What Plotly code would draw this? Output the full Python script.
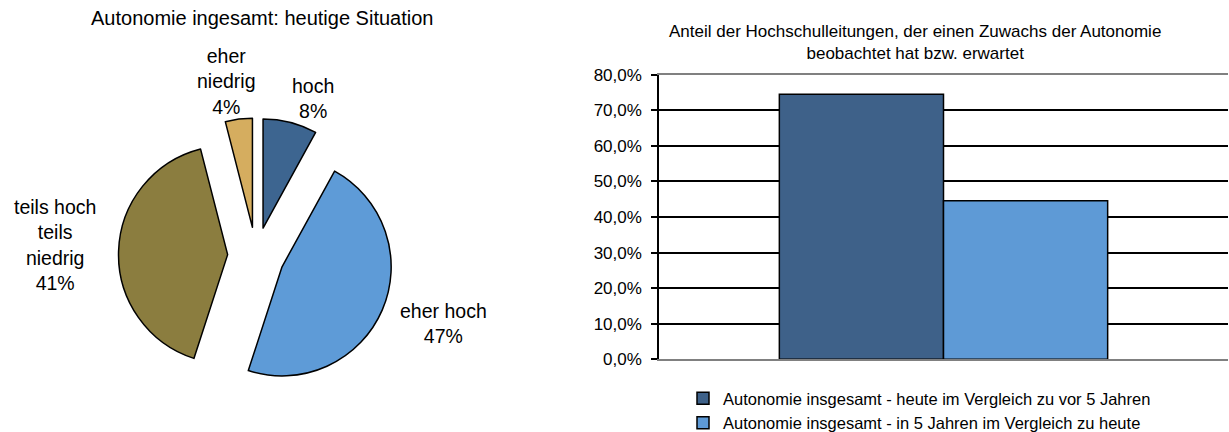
import plotly.graph_objects as go

# Pie: overall autonomy today
pie_labels = ["hoch", "eher hoch", "teils hoch teils niedrig", "eher niedrig"]
pie_label_lines = ["hoch", "eher hoch", "teils hoch<br>teils<br>niedrig", "eher<br>niedrig"]
pie_values = [8, 47, 41, 4]
pie_colors = ["#3D6590", "#5E9BD7", "#8B7D3F", "#D5AD5F"]

# Bars: share of university leaderships observing / expecting more autonomy
bar_series = [
    "Autonomie insgesamt - heute im Vergleich zu vor 5 Jahren",
    "Autonomie insgesamt - in 5 Jahren im Vergleich zu heute",
]
bar_values = [0.745, 0.446]
bar_colors = ["#3E6189", "#5E9AD6"]
y_ticks = [0, 0.1, 0.2, 0.3, 0.4, 0.5, 0.6, 0.7, 0.8]

W, H = 1229, 432
FONT = "Liberation Sans, Arial, sans-serif"


def px_x(v):
    return v / W


def px_y(v):
    return 1 - v / H


fig = go.Figure()

fig.add_trace(go.Pie(
    labels=pie_labels,
    values=pie_values,
    sort=False,
    direction="clockwise",
    rotation=0,
    pull=[0.26] * len(pie_values),
    marker=dict(colors=pie_colors, line=dict(color="#000000", width=1.5)),
    textinfo="none",
    hoverinfo="label+percent",
    showlegend=False,
    domain=dict(x=[px_x(117), px_x(395)], y=[px_y(393), px_y(118)]),
))

for name, val, col in zip(bar_series, bar_values, bar_colors):
    fig.add_trace(go.Bar(
        x=[""],
        y=[val],
        name=name,
        marker=dict(color=col, line=dict(color="#000000", width=1.5)),
        xaxis="x",
        yaxis="y",
    ))

# Pie slice labels
label_pos = [(313, 98), (443, 323), (55, 245), (227, 81)]
total = sum(pie_values)
annotations = []
for text, val, (lx, ly) in zip(pie_label_lines, pie_values, label_pos):
    annotations.append(dict(
        text=f"{text}<br>{round(100 * val / total)}%",
        x=px_x(lx), y=px_y(ly), xref="paper", yref="paper",
        xanchor="center", yanchor="middle", showarrow=False,
        align="center", font=dict(size=19.5, color="#000000", family=FONT),
    ))

annotations.append(dict(
    text="Autonomie ingesamt: heutige Situation",
    x=px_x(262), y=px_y(18), xref="paper", yref="paper",
    xanchor="center", yanchor="middle", showarrow=False,
    font=dict(size=20, color="#000000", family=FONT),
))
annotations.append(dict(
    text="Anteil der Hochschulleitungen, der einen Zuwachs der Autonomie<br>beobachtet hat bzw. erwartet",
    x=px_x(915), y=px_y(43), xref="paper", yref="paper",
    xanchor="center", yanchor="middle", showarrow=False,
    font=dict(size=17, color="#000000", family=FONT),
))

fig.update_layout(
    width=W, height=H,
    margin=dict(l=0, r=0, t=0, b=0, pad=0, autoexpand=False),
    paper_bgcolor="#FFFFFF",
    plot_bgcolor="#FFFFFF",
    separators=",.",
    font=dict(family=FONT, color="#000000", size=15),
    barmode="group",
    bargap=0.423,
    bargroupgap=0,
    xaxis=dict(
        domain=[px_x(659), px_x(1228)],
        showticklabels=False,
        showgrid=False,
        zeroline=False,
        showline=True,
        linecolor="#808080",
        linewidth=2,
        mirror=True,
        ticks="",
        fixedrange=True,
    ),
    yaxis=dict(
        domain=[px_y(359.3), px_y(74.7)],
        range=[0, 0.8],
        tickvals=y_ticks,
        tickformat=".1%",
        showgrid=True,
        gridcolor="#000000",
        gridwidth=1.5,
        zeroline=False,
        showline=True,
        linecolor="#000000",
        linewidth=1.5,
        ticks="outside",
        ticklen=6,
        tickcolor="#000000",
        tickwidth=1.5,
        ticklabelstandoff=6,
        tickfont=dict(size=17, color="#000000", family=FONT),
        fixedrange=True,
    ),
    legend=dict(
        x=px_x(683), y=-8 / H,
        xanchor="left", yanchor="bottom",
        orientation="v",
        font=dict(size=16.5, color="#000000", family=FONT),
        bgcolor="rgba(0,0,0,0)",
        tracegroupgap=0,
        itemwidth=30,
    ),
    annotations=annotations,
)

fig.write_html("out.html")
